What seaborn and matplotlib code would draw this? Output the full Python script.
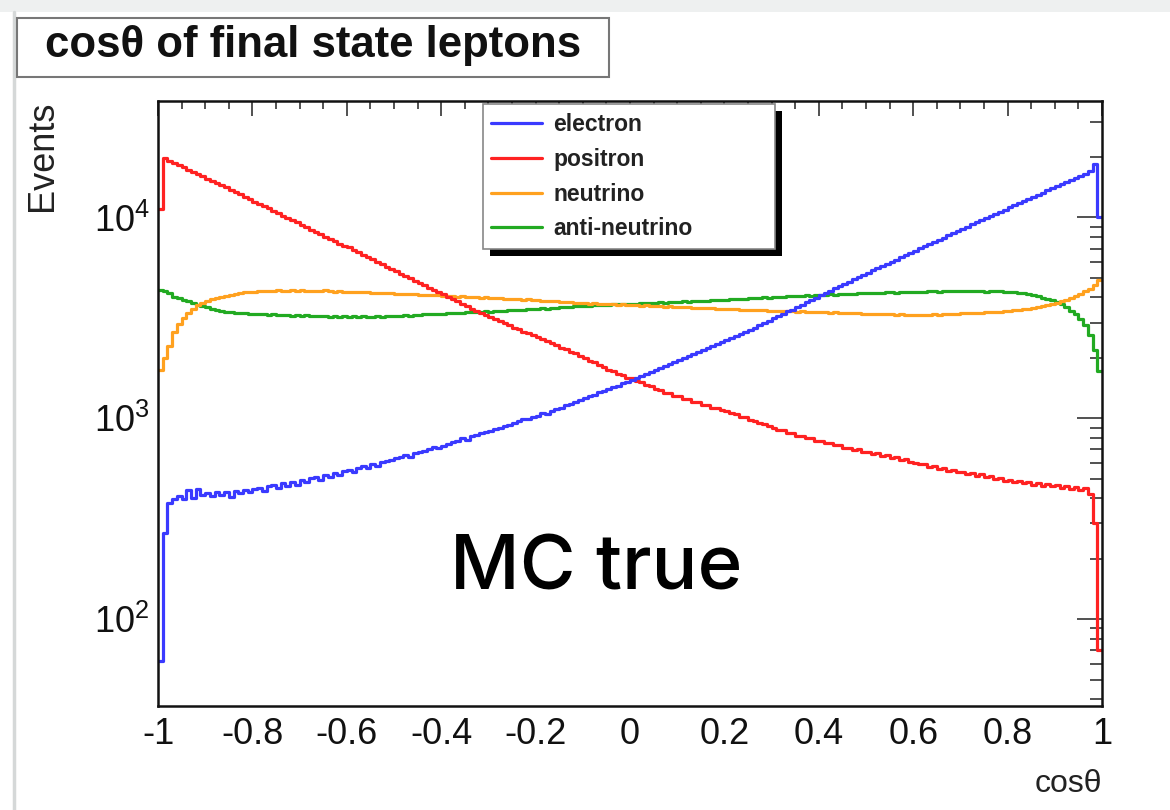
import numpy as np
import pandas as pd
import matplotlib
matplotlib.use("Agg")
import matplotlib.pyplot as plt
import seaborn as sns
from matplotlib.patches import Rectangle
from matplotlib.lines import Line2D
from matplotlib.ticker import FixedLocator, MultipleLocator, LogLocator, NullFormatter, FixedFormatter
from matplotlib.font_manager import FontProperties

# ---------------- data (events per bin, 200 bins of width 0.01 from -1 to 1) -------------
electron = [
    62, 270, 380, 398, 412, 396, 440, 402, 446, 414,
    424, 410, 432, 415, 428, 408, 436, 426, 442, 430,
    446, 452, 436, 458, 466, 448, 474, 462, 482, 468,
    492, 484, 504, 512, 496, 524, 512, 534, 522, 544,
    552, 542, 568, 578, 566, 594, 582, 604, 612, 622,
    632, 644, 656, 640, 674, 684, 690, 706, 724, 712,
    732, 748, 762, 772, 796, 778, 814, 826, 846, 852,
    862, 884, 898, 912, 922, 946, 966, 990, 998, 1020,
    1032, 1064, 1046, 1094, 1112, 1128, 1164, 1176, 1212, 1238,
    1262, 1292, 1306, 1348, 1372, 1398, 1436, 1456, 1508, 1518,
    1556, 1592, 1616, 1668, 1698, 1746, 1778, 1826, 1866, 1916,
    1948, 2006, 2036, 2094, 2138, 2196, 2236, 2296, 2346, 2406,
    2448, 2516, 2566, 2638, 2696, 2766, 2826, 2906, 2976, 3066,
    3146, 3236, 3306, 3406, 3476, 3576, 3666, 3776, 3876, 3996,
    4096, 4206, 4306, 4436, 4546, 4666, 4786, 4926, 5046, 5186,
    5296, 5446, 5576, 5736, 5876, 6036, 6176, 6346, 6496, 6666,
    6846, 7036, 7196, 7386, 7566, 7766, 7946, 8156, 8356, 8586,
    8796, 9006, 9246, 9486, 9696, 9956, 10196, 10456, 10696, 10956,
    11296, 11556, 11846, 12106, 12396, 12706, 12996, 13306, 13646, 13956,
    14296, 14656, 14996, 15306, 15696, 16056, 16446, 16996, 18396, 10096,
]
positron = [
    11000, 19800, 19100, 18600, 18200, 17800, 17300, 16900, 16500, 16000,
    15500, 15150, 14800, 14450, 14100, 13750, 13400, 13050, 12700, 12350,
    12000, 11700, 11400, 11100, 10800, 10500, 10200, 9950, 9700, 9450,
    9200, 8950, 8700, 8480, 8250, 8030, 7820, 7610, 7400, 7200,
    7100, 6900, 6720, 6530, 6350, 6180, 6010, 5850, 5690, 5540,
    5400, 5260, 5120, 4980, 4850, 4720, 4600, 4480, 4360, 4250,
    4150, 4040, 3930, 3830, 3720, 3620, 3520, 3430, 3340, 3260,
    3200, 3110, 3060, 2970, 2910, 2830, 2780, 2700, 2660, 2590,
    2550, 2480, 2440, 2360, 2320, 2240, 2210, 2140, 2110, 2040,
    2000, 1940, 1910, 1840, 1810, 1750, 1720, 1660, 1640, 1590,
    1580, 1530, 1510, 1460, 1450, 1400, 1390, 1340, 1330, 1290,
    1290, 1250, 1250, 1210, 1200, 1170, 1170, 1130, 1120, 1100,
    1090, 1060, 1055, 1020, 1015, 985, 975, 945, 940, 915,
    900, 880, 875, 850, 845, 820, 820, 795, 795, 775,
    770, 755, 755, 735, 735, 715, 715, 695, 700, 682,
    680, 665, 672, 650, 655, 635, 642, 620, 628, 605,
    600, 590, 595, 575, 582, 560, 568, 548, 556, 538,
    540, 528, 536, 518, 526, 508, 516, 498, 506, 490,
    492, 480, 488, 474, 484, 468, 478, 462, 472, 458,
    466, 452, 460, 446, 456, 440, 452, 420, 300, 70,
]
neutrino = [
    1750, 2000, 2300, 2700, 2950, 3150, 3350, 3500, 3650, 3750,
    3850, 3920, 3980, 4030, 4080, 4120, 4170, 4220, 4240, 4260,
    4280, 4300, 4290, 4320, 4300, 4330, 4310, 4300, 4340, 4320,
    4330, 4300, 4320, 4310, 4290, 4330, 4300, 4280, 4300, 4270,
    4280, 4260, 4250, 4270, 4240, 4220, 4230, 4200, 4210, 4190,
    4180, 4160, 4170, 4140, 4150, 4120, 4130, 4100, 4110, 4090,
    4080, 4060, 4070, 4040, 4050, 4020, 4030, 4010, 3990, 4000,
    3980, 3960, 3970, 3940, 3950, 3920, 3930, 3900, 3910, 3880,
    3870, 3850, 3860, 3830, 3820, 3800, 3810, 3780, 3770, 3760,
    3750, 3730, 3740, 3710, 3720, 3700, 3690, 3680, 3690, 3670,
    3660, 3650, 3640, 3650, 3620, 3630, 3610, 3600, 3610, 3590,
    3590, 3570, 3580, 3560, 3550, 3560, 3530, 3540, 3520, 3510,
    3500, 3510, 3490, 3480, 3470, 3480, 3460, 3450, 3460, 3440,
    3440, 3430, 3420, 3430, 3410, 3400, 3410, 3390, 3380, 3390,
    3380, 3370, 3360, 3370, 3350, 3340, 3350, 3330, 3340, 3320,
    3320, 3310, 3300, 3310, 3290, 3300, 3280, 3290, 3270, 3280,
    3270, 3260, 3280, 3270, 3290, 3280, 3300, 3290, 3310, 3320,
    3330, 3340, 3330, 3350, 3360, 3370, 3380, 3390, 3400, 3420,
    3430, 3450, 3470, 3490, 3520, 3540, 3570, 3610, 3650, 3700,
    3760, 3820, 3900, 3980, 4070, 4170, 4290, 4430, 4620, 4900,
]
anti_neutrino = [
    4370, 4300, 4200, 4030, 3980, 3900, 3850, 3750, 3680, 3620,
    3580, 3520, 3480, 3440, 3390, 3400, 3360, 3340, 3350, 3310,
    3300, 3310, 3290, 3270, 3300, 3280, 3260, 3280, 3250, 3270,
    3240, 3260, 3230, 3250, 3220, 3240, 3210, 3230, 3200, 3220,
    3210, 3230, 3200, 3220, 3190, 3210, 3230, 3200, 3220, 3240,
    3230, 3250, 3270, 3250, 3280, 3260, 3290, 3310, 3290, 3320,
    3310, 3340, 3330, 3360, 3350, 3380, 3370, 3390, 3380, 3410,
    3400, 3420, 3440, 3430, 3450, 3470, 3460, 3480, 3500, 3490,
    3510, 3530, 3520, 3550, 3560, 3580, 3570, 3600, 3610, 3630,
    3640, 3620, 3650, 3670, 3660, 3680, 3700, 3690, 3710, 3720,
    3730, 3710, 3740, 3750, 3740, 3760, 3780, 3770, 3790, 3800,
    3800, 3820, 3810, 3830, 3850, 3840, 3860, 3880, 3870, 3900,
    3900, 3920, 3940, 3930, 3950, 3970, 3960, 3990, 4000, 3990,
    4010, 4030, 4020, 4050, 4060, 4050, 4080, 4090, 4080, 4110,
    4100, 4120, 4140, 4130, 4150, 4170, 4160, 4180, 4190, 4200,
    4190, 4210, 4230, 4220, 4240, 4250, 4230, 4260, 4270, 4250,
    4270, 4280, 4260, 4290, 4300, 4280, 4310, 4290, 4300, 4320,
    4300, 4310, 4290, 4320, 4300, 4280, 4300, 4310, 4290, 4280,
    4270, 4250, 4230, 4200, 4150, 4100, 4050, 3990, 3930, 3870,
    3800, 3700, 3580, 3440, 3300, 3120, 2900, 2600, 2200, 1720,
]
series_names = ["electron", "positron", "neutrino", "anti-neutrino"]
series_values = [electron, positron, neutrino, anti_neutrino]
series_colors = ["#3a3aff", "#ff2222", "#ffa11f", "#22aa22"]
xtick_values = [-1, -0.8, -0.6, -0.4, -0.2, 0, 0.2, 0.4, 0.6, 0.8, 1]
xtick_labels = ["-1", "-0.8", "-0.6", "-0.4", "-0.2", "0", "0.2", "0.4", "0.6", "0.8", "1"]
ytick_values = [1e2, 1e3, 1e4]
ytick_labels = [r"$\mathregular{10^{2}}$", r"$\mathregular{10^{3}}$", r"$\mathregular{10^{4}}$"]
title_text = "cos\u03b8 of final state leptons"
xlabel_text = "cos\u03b8"
ylabel_text = "Events"
annotation_text = "MC true"

# ---------------- build long-form table -------------
n_bins = 200
edges = np.linspace(-1, 1, n_bins + 1)
centers = 0.5 * (edges[:-1] + edges[1:])
frames = []
for name, vals in zip(series_names, series_values):
    frames.append(pd.DataFrame({"cos": centers, "events": vals, "lepton": name}))
df = pd.concat(frames, ignore_index=True)

sns.set_theme(style="white")
plt.rcParams["font.family"] = ["Liberation Sans", "DejaVu Sans"]
plt.rcParams["mathtext.fontset"] = "custom"
plt.rcParams["mathtext.rm"] = "Liberation Sans"
plt.rcParams["mathtext.it"] = "Liberation Sans:italic"
plt.rcParams["mathtext.bf"] = "Liberation Sans:bold"

fig = plt.figure(figsize=(11.7, 8.1), dpi=100)
fig.patch.set_facecolor("white")
ax = fig.add_axes([158 / 1170, 1 - 706 / 810, 944 / 1170, 605 / 810])

sns.histplot(data=df, x="cos", weights="events", hue="lepton", hue_order=series_names,
             palette=dict(zip(series_names, series_colors)), bins=n_bins, binrange=(-1, 1),
             element="step", fill=False, linewidth=2.3, legend=False, ax=ax)

ax.set_yscale("log")
ax.set_xlim(-1, 1)
ax.set_ylim(37, 38000)

# ticks ROOT style
ax.xaxis.set_major_locator(FixedLocator(xtick_values))
ax.xaxis.set_major_formatter(FixedFormatter(xtick_labels))
ax.xaxis.set_minor_locator(MultipleLocator(0.05))
ax.yaxis.set_major_locator(FixedLocator(ytick_values))
ax.yaxis.set_major_formatter(FixedFormatter(ytick_labels))
ax.yaxis.set_minor_locator(LogLocator(base=10, subs=np.arange(2, 10)))
ax.yaxis.set_minor_formatter(NullFormatter())
ax.tick_params(axis="both", which="both", direction="in", top=True, right=True,
               colors="#222222", width=1.1)
ax.tick_params(axis="x", which="major", length=11, labelsize=26, pad=8, labelcolor="#111111")
ax.tick_params(axis="x", which="minor", length=6)
ax.tick_params(axis="y", which="major", length=18, labelsize=26, pad=6, labelcolor="#111111")
ax.tick_params(axis="y", which="minor", length=9)
for sp in ax.spines.values():
    sp.set_color("#111111")
    sp.set_linewidth(1.8)

ax.set_xlabel(xlabel_text, loc="right", fontsize=23, labelpad=12, color="#222222")
ax.set_ylabel(ylabel_text, loc="top", fontsize=26, labelpad=24, color="#222222")

# big annotation
ax.text(-0.072, 141, annotation_text, fontsize=55, ha="center", va="baseline", color="black",
        family=["Inter", "Liberation Sans"], fontweight="medium")

# legend
handles = [Line2D([], [], color=c, lw=2.3) for c in series_colors]
leg = ax.legend(handles, series_names, loc="upper left",
                bbox_to_anchor=(0.344, 0.0, 0.31, 0.995), mode="expand",
                prop=FontProperties(family="Liberation Sans", weight="bold", size=16.5),
                handlelength=2.2, handletextpad=0.5, labelspacing=0.52, borderpad=0.38,
                frameon=True, fancybox=False, borderaxespad=0.0)
leg.get_frame().set_edgecolor("#888888")
leg.get_frame().set_linewidth(1.2)
leg.get_frame().set_alpha(1)
for t in leg.get_texts():
    t.set_color("#222222")
leg.set_zorder(10)

fig.canvas.draw()
bb = leg.get_window_extent().transformed(fig.transFigure.inverted())
shadow = Rectangle((bb.x0 + 7 / 1170, bb.y0 - 7 / 810), bb.width, bb.height,
                   transform=fig.transFigure, facecolor="black", edgecolor="none", zorder=9)
ax.add_artist(shadow)
shadow.set_clip_on(False)

# canvas frame decoration
fig.add_artist(Rectangle((0, 1 - 12 / 810), 1, 12 / 810, transform=fig.transFigure,
                         facecolor="#eef0f0", edgecolor="none", zorder=0))
fig.add_artist(Line2D([14 / 1170, 14 / 1170], [0, 1 - 12 / 810], transform=fig.transFigure,
                      color="#d5d8d8", lw=2.5, zorder=0))

# title box
fig.add_artist(Rectangle((17 / 1170, 1 - 77 / 810), 592 / 1170, 59 / 810, transform=fig.transFigure,
                         facecolor="white", edgecolor="#777777", lw=1.5, zorder=1))
fig.text(313 / 1170, 1 - 46 / 810, title_text, fontsize=31.5, fontweight="bold",
         ha="center", va="center", color="#111111", zorder=2)

fig.savefig("out.png", dpi=100, facecolor="white")
